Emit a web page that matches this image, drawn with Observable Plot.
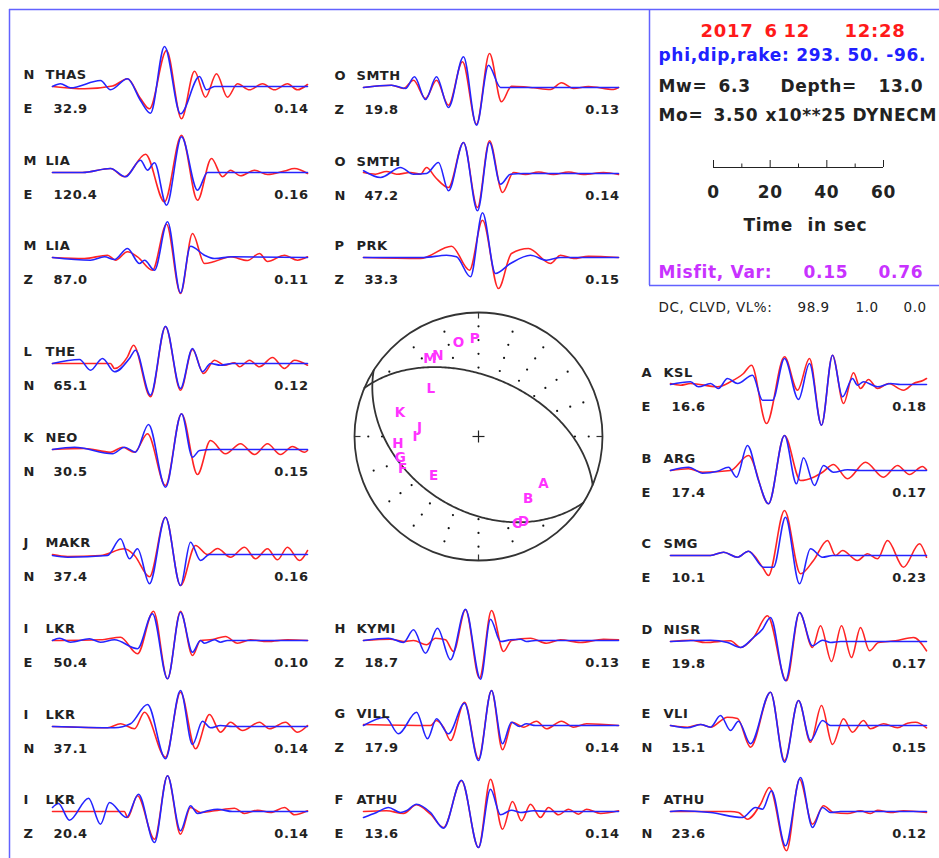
<!DOCTYPE html>
<html><head><meta charset="utf-8">
<script src="https://cdn.jsdelivr.net/npm/d3@7"></script>
<script src="https://cdn.jsdelivr.net/npm/@observablehq/plot@0.6"></script>
<style>
html,body{margin:0;padding:0;background:#fff;}
#chart svg text{letter-spacing:0.04em;}
</style>
</head><body><div id="chart"></div>
<script>
// ---------- station panels ----------
const codes = ["N","M","M","L","K","J","I","I","I","O","O","P","H","G","F","A","B","C","D","E","F"];
const names = ["THAS","LIA","LIA","THE","NEO","MAKR","LKR","LKR","LKR","SMTH","SMTH","PRK","KYMI","VILL","ATHU","KSL","ARG","SMG","NISR","VLI","ATHU"];
const comps = ["E","E","Z","N","N","N","E","N","Z","Z","N","Z","Z","Z","E","E","E","E","E","N","N"];
const dists = ["32.9","120.4","87.0","65.1","30.5","37.4","50.4","37.1","20.4","19.8","47.2","33.3","18.7","17.9","13.6","16.6","17.4","10.1","19.8","15.1","23.6"];
const fits  = ["0.14","0.16","0.11","0.12","0.15","0.16","0.10","0.14","0.14","0.13","0.14","0.15","0.13","0.14","0.14","0.18","0.17","0.23","0.17","0.15","0.12"];

// waveform knots [time (0.35 s units), amplitude]
const observed = [
 [[0,0],[32,-2.3],[60,0.5],[75,7.7],[88,-12],[97,-22.3],[114,36],[129,-32.3],[142,15.3],[153,-10.7],[164,12.7],[175,-10.7],[185,2.7],[197,-3.3],[210,2.7],[222,-3.3],[235,2.7],[245,-3.3],[255,2]],
 [[0,0],[30,0],[58,4],[72,-4.3],[93,18.3],[112,-29.3],[129,37.3],[145,-27.7],[159,14],[170,-4.3],[178,2.3],[188,-3.3],[202,2.3],[215,-2],[232,1.5],[242,4],[255,-1]],
 [[0,0],[32,-1],[55,2.3],[63,-2.7],[75,5.7],[85,0.7],[100,-12.7],[114,33.3],[128,-36],[140,24],[152,-6],[162,-4],[178,0.7],[195,-3],[207,4],[215,-4],[232,2.3],[245,-2.7],[255,0.7]],
 [[0,0],[58,0],[62,-5],[75,6.7],[81,18.3],[98,-33.3],[113,36.7],[128,-26.7],[140,14],[151,-10],[162,3.3],[172,-1.7],[182,0.7],[187,-3.3],[197,3.3],[207,-3.3],[220,6],[232,-5],[242,3.3],[255,-1.7]],
 [[0,0],[32,1],[58,-2.7],[70,2.3],[82,-2.7],[95,15.7],[113,-36],[129,35.7],[145,-25],[158,9],[173,-4.3],[188,5.7],[202,-5],[215,5.7],[228,-5],[240,3],[252,-2.7],[255,-1]],
 [[0,0],[15,-2],[48,-1],[72,5.7],[82,-1],[97,-22.3],[113,37.3],[128,-31],[143,9],[155,0],[165,6],[178,-2.7],[192,7.3],[203,-4.3],[215,5.7],[225,-5.3],[235,7.3],[247,-6],[255,4]],
 [[0,0],[48,0.7],[68,3.3],[85,-13.3],[101,29.3],[115,-38.3],[128,29.3],[140,-15],[148,0],[160,1],[173,4],[185,-2.7],[198,0.7],[215,-1],[235,0.7],[255,0]],
 [[0,0],[55,-1.3],[68,2.7],[82,-2.3],[92,14.3],[113,-30.7],[128,34.3],[143,-22.3],[157,12],[168,-5.7],[178,4.3],[190,-4],[207,4.3],[217,-2.3],[233,4.3],[245,-5.7],[255,1]],
 [[0,0],[72,0],[75,-6],[85,15.7],[102,-27.7],[115,35.7],[128,-22.7],[138,4],[148,-1],[162,0.7],[182,3.3],[192,-2],[205,1.3],[218,-1],[232,4],[242,-3.3],[255,0.7]],
 [[0,0],[28,2.3],[40,-1],[50,7.3],[62,-11],[73,7.3],[85,-17.7],[99,25.7],[113,-36.7],[126,34],[138,-14.3],[148,1.3],[160,0.7],[170,-0.3],[187,-2],[198,4.7],[210,-1],[225,1],[250,-2],[255,0]],
 [[0,1],[12,-0.7],[23,2],[33,-0.7],[47,1],[57,-0.7],[63,6],[72,-4],[85,-14],[100,31],[114,-34],[126,32.7],[139,-19],[150,1],[162,-1],[175,1.5],[190,-1],[205,1.5],[220,-1],[240,1],[255,-1]],
 [[0,0],[57,-1],[88,11.3],[106,-12.7],[119,37.3],[135,-31],[148,4],[165,9],[187,-6],[197,2.3],[210,-1],[225,1.3],[255,0]],
 [[0,0],[27,1.3],[40,-1],[50,0],[63,-4.3],[72,2.3],[82,0.7],[90,-11],[102,30.7],[116,-37.7],[128,30],[140,-11],[148,0],[167,2.3],[183,-2.7],[197,0.7],[217,-2],[240,1.3],[255,0.7]],
 [[0,1],[67,0],[73,5],[80,-1.7],[87,-15],[101,23.3],[115,-33.3],[128,35],[139,-24.3],[149,3.3],[160,-1.7],[173,4.3],[183,-3.3],[198,4.3],[210,-1.7],[223,1.7],[255,0]],
 [[0,0],[23,0.7],[40,-2],[53,6.7],[67,-2.7],[80,-16],[98,30.7],[115,-36],[127,32.3],[139,-17.7],[149,10],[158,-9.3],[167,7.3],[177,-6],[185,4],[195,-3.3],[205,2.3],[215,-2.7],[223,2.3],[237,-2],[255,0.7]],
 [[0,1],[10,-0.7],[20,1],[47,-2.3],[60,2.7],[73,11],[81,19.3],[96,-39],[114,27.7],[127,-5.7],[139,26],[151,-40.7],[162,29.3],[173,-19],[183,11.7],[190,-4],[198,5],[207,-4],[218,1],[233,-5.7],[243,1],[253,4.3],[256,6]],
 [[0,0],[18,1.7],[32,-1.7],[60,0],[78,15],[98,-33.3],[114,35],[130,-10],[143,-6.7],[152,-1.7],[163,6],[177,-8.3],[195,8.3],[213,-6.7],[227,5],[239,-4],[252,4],[256,0.7]],
 [[0,0],[40,0],[53,3.3],[67,-1.7],[78,4.3],[92,-11.7],[98,-20],[114,45],[130,-18.3],[143,-5],[157,15],[165,0],[172,5],[187,-5],[197,1.7],[207,-3.3],[217,15],[233,-11.7],[249,11.7],[256,-1.7]],
 [[0,0],[20,1.3],[35,-1],[60,0.7],[70,-6],[83,4],[97,25.7],[116,-39.3],[129,29],[142,-6],[150,15.7],[161,-20],[171,15.7],[181,-16],[190,14],[199,-9.3],[208,-1],[225,0.7],[243,4],[256,-9.3]],
 [[0,0],[17,-1.7],[30,1],[40,-1.7],[57,8.3],[67,7],[80,-21.7],[100,33.3],[114,-35],[128,25],[140,-16.7],[151,20],[162,-19],[173,6.7],[182,-6.7],[193,5],[200,-3.3],[213,1.7],[227,-2.3],[237,2.3],[245,3.3],[256,-2.3]],
 [[0,0],[60,0],[68,-1],[77,-7.7],[90,7.3],[99,24],[116,-39.3],[129,32.3],[142,-12.7],[153,5.7],[163,-1],[177,-2],[190,0.7],[200,-2],[207,1.3],[220,-1],[233,0.7],[256,-1]]
];
const synthetic = [
 [[0,0],[8,2.7],[18,-1.3],[48,6],[58,-3.3],[75,7.7],[88,-14],[98,-26.7],[112,40],[128,-27.3],[147,10],[154,-3.3],[162,0],[255,0]],
 [[0,0],[30,0],[58,4],[73,-4.3],[88,12.3],[95,2.3],[102,9.7],[114,-32.7],[129,35.7],[145,-17.7],[155,0],[255,0]],
 [[0,0],[38,-2.7],[52,0.7],[62,-2],[75,9],[87,-6],[92,-2.7],[102,-12.7],[115,35.7],[128,-35.3],[138,11.3],[152,2.3],[162,-1],[180,0.7],[255,0]],
 [[0,0],[27,4],[38,-6.7],[50,5],[62,-8.3],[77,5],[83,13.3],[98,-31.7],[113,37.3],[128,-25],[140,15],[150,-8.3],[158,0],[168,-1.7],[180,0],[255,0]],
 [[0,0],[22,2.3],[60,-4.3],[72,2.3],[83,-2.7],[96,25],[113,-37.7],[129,35.7],[140,-7.7],[147,-1],[160,0],[255,0]],
 [[0,-1],[15,-2.7],[55,-1],[68,15.7],[77,-4.3],[85,5.7],[97,-29.3],[113,37.3],[128,-31],[138,12.3],[148,-6],[157,0],[255,0]],
 [[0,0],[7,2.3],[18,-1.7],[37,1.7],[48,-1.7],[62,0.7],[85,-8.3],[100,26.7],[115,-38.3],[128,28.3],[140,-11.7],[148,0],[152,-2.7],[162,0.7],[168,-1.7],[175,0],[255,0]],
 [[0,0],[62,-1.3],[78,2.7],[95,22],[113,-32.3],[128,36],[140,-18],[150,5.3],[158,-1.3],[168,1],[180,0],[255,0]],
 [[0,4],[6,8],[17,-8.7],[36,13.3],[48,-12.7],[57,9],[74,-6],[86,17.3],[102,-31],[115,35.7],[128,-19.3],[138,5.7],[145,-2],[155,0.7],[165,2.3],[180,0],[255,0]],
 [[0,0],[28,2.3],[42,-1],[51,10.7],[62,-12],[73,10.7],[85,-20],[100,30.7],[113,-37.7],[125,22.3],[137,0],[255,0]],
 [[0,2.7],[17,-4],[37,6],[50,-0.7],[63,0],[75,11],[85,-17.3],[100,31],[114,-37.3],[126,31],[137,-10.7],[147,-0.7],[160,0],[255,0]],
 [[0,0],[60,0],[83,2.3],[93,0.7],[107,-19.3],[119,44.7],[132,-16],[147,-6],[167,2.3],[183,-2.7],[197,0],[255,0]],
 [[0,0],[25,2.3],[40,-2],[50,10.7],[62,-12.7],[74,12.3],[87,-19.3],[102,31.3],[117,-38.7],[127,21.3],[137,-1],[147,0.7],[157,1.3],[163,-1],[172,0],[255,0]],
 [[0,0],[22,8.3],[35,-8.3],[53,13.3],[64,-13.3],[73,6.7],[85,-8.3],[101,22.3],[115,-35],[128,35],[139,-18.3],[148,3.3],[156,-1],[163,1.7],[172,0],[255,0]],
 [[0,-6],[13,-1],[25,4],[37,-1],[43,0.7],[53,7.3],[67,-1],[80,-16.7],[98,31.3],[115,-36],[127,22.3],[137,-3.3],[148,1.3],[157,-1],[170,0.7],[185,0],[255,0]],
 [[0,0],[20,2.7],[28,-2.3],[40,1],[48,-4],[57,6],[67,1],[82,9.3],[92,-15.7],[102,-15.7],[114,26],[128,-15],[139,21],[151,-40.7],[162,29.3],[172,-12.3],[182,6],[187,-0.7],[193,2.7],[207,-2.3],[220,1],[230,0],[256,0]],
 [[0,0],[18,3.3],[32,-2.7],[47,-0.7],[58,3.3],[66,-6.7],[77,25],[88,-10],[98,-33.3],[114,35],[126,-13.3],[133,12.7],[144,-15],[153,5],[163,-1.7],[177,0.7],[190,0],[256,0]],
 [[0,0],[40,0],[53,3.3],[67,-1.7],[78,4.3],[93,-11.7],[103,-11.7],[115,38.3],[129,-28.3],[140,6.7],[152,-1.7],[162,0],[256,0]],
 [[0,0],[40,1.3],[57,-1],[70,-6],[83,4],[92,12.3],[100,24],[115,-39.3],[129,29],[142,-4.3],[152,1.3],[160,-1],[170,0],[256,0]],
 [[0,0],[17,-2.3],[30,1],[40,-1.7],[50,10],[60,-5],[68,4.3],[80,-18.3],[100,33.3],[114,-36.7],[128,25],[140,-15],[152,5],[160,0],[256,0]],
 [[0,0],[10,0.7],[40,-1],[72,-6],[85,4],[92,2.3],[101,20.7],[115,-34.3],[130,34],[142,-16],[152,4],[160,-1],[170,0],[256,0]]
];

// ---------- event info ----------
const eventDate = ["2017","6","12","12:28"];
const mechanism = {strike: 293, dip: 50, rake: -96};
const mwDepth = ["Mw=","6.3","Depth=","13.0"];
const moment = ["Mo=","3.50","x10**25","DYNECM"];
const misfitVar = ["Misfit, Var:","0.15","0.76"];
const dcClvdVl = ["DC, CLVD, VL%:","98.9","1.0","0.0"];
const scaleTicks = [0,10,20,30,40,50,60];
const scaleLabels = [0,20,40,60];

// ---------- beachball station letters (azimuth deg, radius fraction) ----------
const bbLetters = ["A","B","C","D","E","F","G","H","I","J","K","L","M","N","O","P"];
const bbAz = [126,141,156,152,229,247,255,265,270,279,287,315,328,333.5,348,358];
const bbR  = [0.65,0.64,0.77,0.78,0.477,0.663,0.65,0.65,0.51,0.48,0.66,0.54,0.736,0.73,0.77,0.79];

// ---------- layout ----------
const W = 939, H = 858;
const colX = [52, 363, 670];
const panelCol = [0,0,0,0,0,0,0,0,0,1,1,1,1,1,1,2,2,2,2,2,2];
const panelBase = [86,172,257,363,449,554,640,726,811, 87,173,257,640,725,811, 384,470,555,641,725,811];
const BB = {cx: 478, cy: 436, R: 124};
const RED = "#ff2424", BLUE = "#2424ff", INK = "#222", FRAME = "#6262ff";
const MAG = "#ff33ff", VIO = "#c832ff";
const FONT = "DejaVu Sans";

function traceRows(list) {
  const rows = [];
  list.forEach((tr, k) => tr.forEach(([t, a]) =>
    rows.push({k, x: colX[panelCol[k]] + t, y: panelBase[k] - a})));
  return rows;
}
const obsRows = traceRows(observed), synRows = traceRows(synthetic);

const topLabels = [], botLabels = [], fitLabels = [];
names.forEach((n, k) => {
  const x0 = colX[panelCol[k]], b = panelBase[k];
  topLabels.push({x: x0 - 29, y: b - 8, text: codes[k]});
  topLabels.push({x: x0 - 7, y: b - 8, text: n});
  botLabels.push({x: x0 - 29, y: b + 26, text: comps[k]});
  botLabels.push({x: x0 + 1, y: b + 26, text: dists[k]});
  fitLabels.push({x: x0 + 256, y: b + 26, text: fits[k]});
});

// ---------- focal mechanism geometry (lower hemisphere, equal area) ----------
const rad = Math.PI / 180;
function project(v) {
  let [n, e, d] = v;
  if (d < 0) { n = -n; e = -e; d = -d; }
  const i = Math.acos(Math.min(1, d));
  const h = Math.hypot(n, e) || 1;
  const r = BB.R * Math.SQRT2 * Math.sin(i / 2);
  return [BB.cx + r * e / h, BB.cy - r * n / h];
}
function planeVectors(s, dp, l) {
  const S = s * rad, D = dp * rad, L = l * rad;
  const nrm = [-Math.sin(D) * Math.sin(S), Math.sin(D) * Math.cos(S), -Math.cos(D)];
  const slip = [Math.cos(L) * Math.cos(S) + Math.sin(L) * Math.cos(D) * Math.sin(S),
                Math.cos(L) * Math.sin(S) - Math.sin(L) * Math.cos(D) * Math.cos(S),
                -Math.sin(L) * Math.sin(D)];
  return {nrm, slip};
}
const {nrm, slip} = planeVectors(mechanism.strike, mechanism.dip, mechanism.rake);
function strikeDipFromNormal(u) {
  let [a, b, c] = u;
  if (c > 0) { a = -a; b = -b; c = -c; }
  return [Math.atan2(-a, b) / rad, Math.acos(-c) / rad];
}
const planes = [[mechanism.strike, mechanism.dip], strikeDipFromNormal(slip)];
const planeRows = [];
planes.forEach(([s, dp], p) => {
  const S = s * rad, D = dp * rad;
  for (let a = 0; a <= 180; a += 1) {
    const A = a * rad;
    const v = [Math.cos(A) * Math.cos(S) - Math.sin(A) * Math.sin(S) * Math.cos(D),
               Math.cos(A) * Math.sin(S) + Math.sin(A) * Math.cos(S) * Math.cos(D),
               Math.sin(A) * Math.sin(D)];
    const [x, y] = project(v);
    planeRows.push({p, x, y});
  }
});
const dotRows = [];
for (let k = 1; k <= 8; k++) {
  const rr = k / 9;
  const inc = 2 * Math.asin(rr / Math.SQRT2);
  for (let az = 0; az < 360; az += 18) {
    const g = [Math.sin(inc) * Math.cos(az * rad), Math.sin(inc) * Math.sin(az * rad), Math.cos(inc)];
    const gn = g[0]*nrm[0] + g[1]*nrm[1] + g[2]*nrm[2];
    const gd = g[0]*slip[0] + g[1]*slip[1] + g[2]*slip[2];
    if (gn * gd > 0) dotRows.push({x: BB.cx + rr * BB.R * Math.sin(az * rad), y: BB.cy - rr * BB.R * Math.cos(az * rad)});
  }
}
const letterRows = bbLetters.map((L, i) => ({text: L,
  x: BB.cx + bbR[i] * BB.R * Math.sin(bbAz[i] * rad),
  y: BB.cy - bbR[i] * BB.R * Math.cos(bbAz[i] * rad)}));
const tickRows = [0, 90, 180, 270].map(az => ({
  x1: BB.cx + BB.R * Math.sin(az * rad), y1: BB.cy - BB.R * Math.cos(az * rad),
  x2: BB.cx + (BB.R - 6) * Math.sin(az * rad), y2: BB.cy - (BB.R - 6) * Math.cos(az * rad)}));
const crossRows = [{x1: BB.cx - 6, y1: BB.cy, x2: BB.cx + 6, y2: BB.cy}, {x1: BB.cx, y1: BB.cy - 6, x2: BB.cx, y2: BB.cy + 6}];

// ---------- info box text ----------
const sx = t => 713 + t * 170 / 60;
const infoRed = [700, 764, 783, 844].map((x, i) => ({x, y: 36, text: eventDate[i]}));
const infoBlue = [{x: 658, y: 60, text: `phi,dip,rake: ${mechanism.strike}. ${mechanism.dip}. ${mechanism.rake}.`}];
const infoBlack = [
  ...[658, 718, 780, 878].map((x, i) => ({x, y: 91, text: mwDepth[i]})),
  ...[658, 713, 765, 852].map((x, i) => ({x, y: 120, text: moment[i]})),
  {x: 743, y: 230, text: "Time"}, {x: 807, y: 230, text: "in sec"}
];
const infoMis = [658, 803, 878].map((x, i) => ({x, y: 277, text: misfitVar[i]}));
const infoDC = [658, 797, 855, 903].map((x, i) => ({x, y: 311, text: dcClvdVl[i]}));

const txt = (data, o) => Plot.text(data, {x: "x", y: "y", text: "text", textAnchor: "start", lineAnchor: "bottom", fontFamily: FONT, fontWeight: "bold", fill: INK, ...o});

const chart = Plot.plot({
  width: W, height: H, margin: 0,
  x: {domain: [0, W], range: [0, W], axis: null},
  y: {domain: [0, H], range: [0, H], axis: null},
  style: {fontFamily: FONT, background: "#fff"},
  marks: [
    // frame
    Plot.ruleX([9], {y1: () => 9, y2: () => H, stroke: FRAME, strokeWidth: 1.5}),
    Plot.ruleY([9], {x1: () => 9, x2: () => W, stroke: FRAME, strokeWidth: 1.5}),
    Plot.ruleX([649], {y1: () => 9, y2: () => 285, stroke: FRAME, strokeWidth: 1.5}),
    Plot.ruleY([285], {x1: () => 649, x2: () => W, stroke: FRAME, strokeWidth: 1.5}),
    // traces
    Plot.line(obsRows, {x: "x", y: "y", z: "k", stroke: RED, strokeWidth: 1.6, curve: "monotone-x"}),
    Plot.line(synRows, {x: "x", y: "y", z: "k", stroke: BLUE, strokeWidth: 1.6, curve: "monotone-x"}),
    // panel labels
    txt(topLabels, {fontSize: 13}),
    txt(botLabels, {fontSize: 13}),
    txt(fitLabels, {fontSize: 13, textAnchor: "end"}),
    // info
    txt(infoRed, {fontSize: 18, fill: "#ff1a1a"}),
    txt(infoBlue, {fontSize: 17, fill: "#2020ff"}),
    txt(infoBlack, {fontSize: 17}),
    txt(infoMis, {fontSize: 17, fill: VIO}),
    txt(infoDC, {fontSize: 13.5, fontWeight: "normal"}),
    // time scale bar
    Plot.ruleY([167], {x1: () => sx(0), x2: () => sx(60), stroke: INK, strokeWidth: 1}),
    Plot.ruleX(scaleTicks, {x: sx, y1: t => (t % 20 === 0 ? 160 : 163.5), y2: () => 167, stroke: INK, strokeWidth: 1}),
    Plot.text(scaleLabels, {x: sx, y: () => 197, text: d => String(d), textAnchor: "middle", lineAnchor: "bottom", fontSize: 17, fontWeight: "bold", fontFamily: FONT, fill: INK}),
    // beachball
    Plot.dot(dotRows, {x: "x", y: "y", r: 1.1, fill: "#111", stroke: null}),
    Plot.dot([BB], {x: "cx", y: "cy", r: BB.R, stroke: "#333", strokeWidth: 1.8, fill: "none"}),
    Plot.line(planeRows, {x: "x", y: "y", z: "p", stroke: "#333", strokeWidth: 1.8}),
    Plot.link(tickRows, {x1: "x1", y1: "y1", x2: "x2", y2: "y2", stroke: "#333", strokeWidth: 1.2}),
    Plot.link(crossRows, {x1: "x1", y1: "y1", x2: "x2", y2: "y2", stroke: "#222", strokeWidth: 1.2}),
    Plot.text(letterRows, {x: "x", y: "y", text: "text", fill: MAG, fontSize: 13.5, fontWeight: "bold", fontFamily: FONT, textAnchor: "middle", lineAnchor: "middle"})
  ]
});
document.getElementById("chart").appendChild(chart);
</script></body></html>
